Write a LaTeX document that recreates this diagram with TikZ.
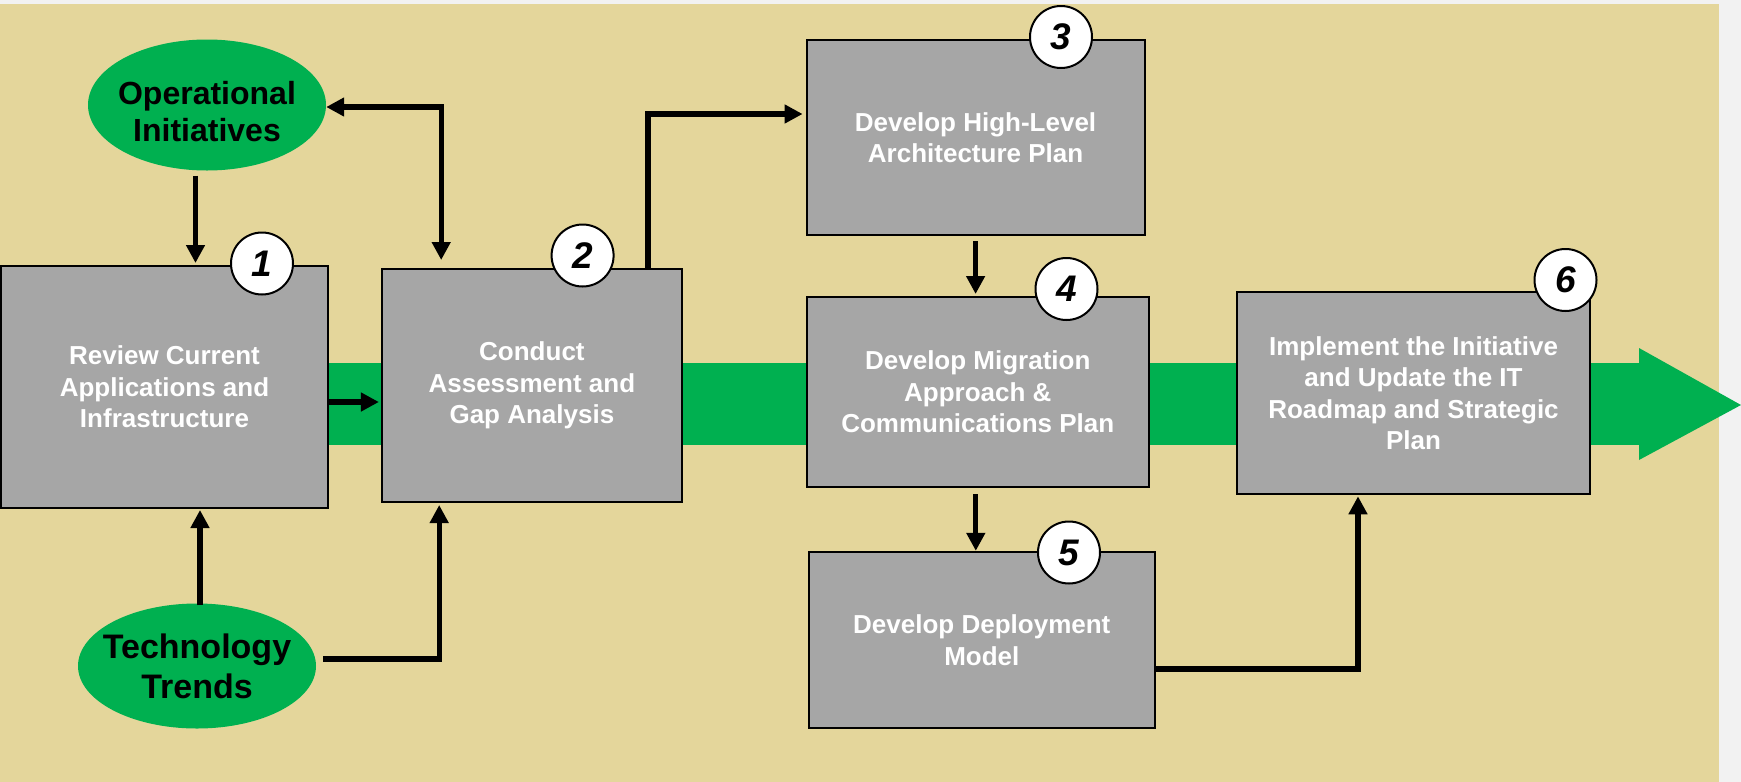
\documentclass[tikz,border=0pt]{standalone}
\usepackage{fontspec}
\setmainfont{Liberation Sans}
\usetikzlibrary{arrows.meta,shapes.geometric}
\definecolor{sand}{HTML}{E4D69B}
\definecolor{paper}{HTML}{F2F2F2}
\definecolor{leaf}{HTML}{00B050}
\definecolor{slate}{HTML}{A6A6A6}

\begin{document}
\begin{tikzpicture}[x=1pt,y=-1pt,
  stepbox/.style={rectangle,draw=black,line width=2pt,fill=slate,text=white,
    align=center,inner sep=0pt,font=\fontsize{26}{31.5}\selectfont\bfseries},
  numdisc/.style={circle,draw=black,line width=2pt,fill=white,minimum size=62pt,
    inner sep=0pt,font=\fontsize{37}{37}\selectfont\bfseries\itshape},
  driver/.style={ellipse,fill=leaf,inner sep=0pt},
  drivertext/.style={align=center,text=black,inner sep=0pt},
  conn/.style={line width=5.3pt,-{Triangle[length=18pt,width=18pt]}},
  conntwo/.style={line width=5.3pt,{Triangle[length=18pt,width=18pt]}-{Triangle[length=18pt,width=18pt]}},
]
\useasboundingbox (0,0) rectangle (1741,782);

% canvas
\fill[paper] (0,0) rectangle (1741,782);
\fill[sand] (0,4) rectangle (1719,782);

% main flow band with its arrow head
\fill[leaf] (100,363) rectangle (1640,445);
\fill[leaf] (1639,348) -- (1741,405) -- (1639,460) -- cycle;

% process steps
\node[stepbox,minimum width=327pt,minimum height=242pt] (b1) at (164.5,387)
  {Review Current\\Applications and\\Infrastructure};
\node[stepbox,minimum width=300pt,minimum height=233pt] (b2) at (531.9,385.5)
  {Conduct\\Assessment and\\Gap Analysis};
\node[stepbox,minimum width=338pt,minimum height=195pt] (b3) at (975.6,137.5)
  {Develop High-Level\\Architecture Plan};
\node[stepbox,minimum width=342pt,minimum height=190pt] (b4) at (977.8,392)
  {Develop Migration\\Approach \&\\Communications Plan};
\node[stepbox,minimum width=345.6pt,minimum height=176.3pt] (b5) at (981.8,640)
  {Develop Deployment\\Model};
\node[stepbox,minimum width=353pt,minimum height=202.6pt] (b6) at (1413.5,393)
  {Implement the Initiative\\and Update the IT\\Roadmap and Strategic\\Plan};

% step numbers
\node[numdisc] (n1) at (262,263.5) {1};
\node[numdisc] (n2) at (582.6,255.5) {2};
\node[numdisc] (n3) at (1061,37) {3};
\node[numdisc] (n4) at (1066.5,289) {4};
\node[numdisc] (n5) at (1069,552.5) {5};
\node[numdisc] (n6) at (1565.5,280) {6};

% drivers
\node[driver,minimum width=238pt,minimum height=131pt] (op) at (207,105) {};
\node[drivertext,font=\fontsize{32}{37}\selectfont\bfseries] (optxt)
  at ([yshift=-7pt]op.center) {Operational\\Initiatives};
\node[driver,minimum width=238pt,minimum height=125pt] (tt) at (197,666) {};
\node[drivertext,font=\fontsize{34}{40}\selectfont\bfseries] (tttxt)
  at (tt.center) {Technology\\Trends};

% connectors
\draw[conn,shorten <=5pt] ([xshift=-11.5pt]op.south) -- ([xshift=-11.5pt,yshift=2pt]op.south |- b1.north);
\draw[conntwo] ([yshift=-2pt]op.east) -| ([xshift=60.3pt,yshift=8pt]b2.north west);
\draw[conn] ([yshift=-15pt]b1.east) -- ([xshift=-2pt,yshift=-15pt]b1.east -| b2.west);
\draw[conn] ([xshift=3pt,yshift=-2pt]tt.north) -- ([xshift=3pt,yshift=-1pt]tt.north |- b1.south);
\draw[conn] ([xshift=7pt,yshift=7pt]tt.east) -| ([xshift=58.3pt,yshift=-2pt]b2.south west);
\draw[conn] ([xshift=-35pt]b2.north east) |- ([xshift=-3pt,yshift=23.5pt]b3.west);
\draw[conn] ([yshift=-5pt]b3.south) -- ([yshift=2pt]b3.south |- b4.north);
\draw[conn] ([xshift=-2pt,yshift=-6pt]b4.south) -- ([xshift=-2pt]b4.south |- b5.north);
\draw[conn] ([yshift=-29pt]b5.east) -| ([xshift=-55.5pt,yshift=-1pt]b6.south);
\end{tikzpicture}
\end{document}
